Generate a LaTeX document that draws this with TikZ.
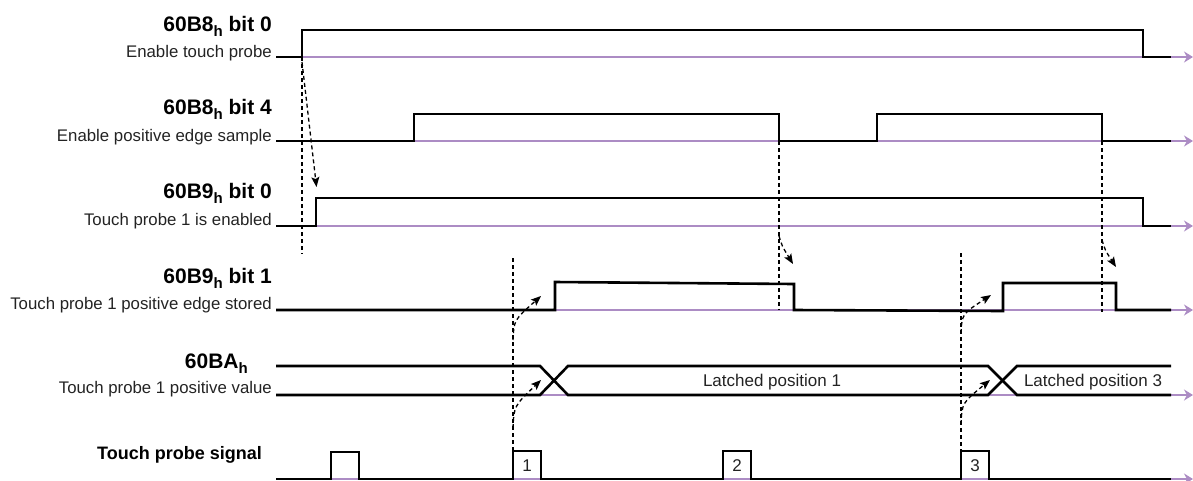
\documentclass[tikz,border=0pt]{standalone}
\usepackage{fontspec}
\setmainfont{Liberation Sans}
\usetikzlibrary{arrows.meta}
\definecolor{axiscol}{RGB}{172,140,196}
\definecolor{subtxt}{RGB}{35,35,35}
\newcommand\regtitle[2]{{\fontsize{21}{24}\selectfont\bfseries #1\raisebox{-5pt}{\fontsize{15}{16}\selectfont h} #2}}
\begin{document}
\begin{tikzpicture}[x=1pt,y=-1pt,
  axisline/.style={draw=axiscol,line width=1.4pt,-{Stealth[length=9pt,width=11pt]}},
  sig/.style={draw=black,line width=2.6pt,line join=miter},
  guide/.style={draw=black,line width=1.3pt,dash pattern=on 4pt off 3pt},
  causal/.style={guide,-{Stealth[length=10pt,width=8pt,inset=2pt]}},
  ttl/.style={anchor=base east,inner sep=0pt,text=black},
  sub/.style={anchor=base east,inner sep=0pt,text=subtxt,font=\fontsize{16.8}{19}\selectfont},
  num/.style={anchor=base,inner sep=0pt,text=subtxt,font=\fontsize{17}{19}\selectfont}]
\useasboundingbox (0,0) rectangle (1193,480);
% axes
\foreach \yy in {57,141,226,310,395,479}{
  \draw[axisline] (276,\yy) -- (1193,\yy);
}
% labels
\node[ttl] (t1) at (272,31) {\regtitle{60B8}{bit 0}};
\node[sub] (s1) at (272,57) {Enable touch probe};
\node[ttl] (t2) at (272,114) {\regtitle{60B8}{bit 4}};
\node[sub] (s2) at (272,141) {Enable positive edge sample};
\node[ttl] (t3) at (272,198) {\regtitle{60B9}{bit 0}};
\node[sub] (s3) at (272,225) {Touch probe 1 is enabled};
\node[ttl] (t4) at (272,283) {\regtitle{60B9}{bit 1}};
\node[sub] (s4) at (272,309) {Touch probe 1 positive edge stored};
\node[ttl] (t5) at (248,368) {{\fontsize{21}{24}\selectfont\bfseries 60BA\raisebox{-5pt}{\fontsize{15}{16}\selectfont h}}};
\node[sub] (s5) at (272,393) {Touch probe 1 positive value};
\node[ttl,font=\fontsize{18}{21}\selectfont\bfseries] (t6) at (262,459) {Touch probe signal};
% signals
\draw[sig] (276,57)--(302,57)--(302,30)--(1143,30)--(1143,57)--(1171,57);
\draw[sig] (276,141)--(414,141)--(414,114)--(779,114)--(779,141)--(877,141)--(877,114)--(1102,114)--(1102,141)--(1171,141);
\draw[sig] (276,226)--(316,226)--(316,198)--(1143,198)--(1143,226)--(1171,226);
\draw[sig] (276,310)--(555,310)--(555,282)--(794,284)--(794,310)--(1003,311)--(1003,283)--(1116,283)--(1116,310)--(1171,310);
\draw[sig] (276,366)--(540,366)--(568,395)--(988,395)--(1017,366)--(1171,366);
\draw[sig] (276,395)--(540,395)--(568,366)--(988,366)--(1017,395)--(1171,395);
\draw[sig] (276,479)--(331,479)--(331,452)--(359,452)--(359,479)--(513,479)--(513,451)--(541,451)--(541,479)--(723,479)--(723,451)--(751,451)--(751,479)--(961,479)--(961,451)--(989,451)--(989,479)--(1171,479);
\node[num] (p1) at (527,471) {1};
\node[num] (p2) at (737,471) {2};
\node[num] (p3) at (975,471) {3};
\node[num] (l1) at (772,386) {Latched position 1};
\node[num] (l3) at (1093,386) {Latched position 3};
% guides and causal arrows
\draw[guide] (302,57)--(302,254);
\draw[causal] (302,62)--(316.5,187);
\draw[guide] (779,141)--(779,310);
\draw[causal] (779,236) .. controls (782,246) .. (793,264);
\draw[guide] (1102,141)--(1102,312);
\draw[causal] (1102,240) .. controls (1105,250) .. (1116,267);
\draw[guide] (513,258)--(513,451);
\draw[causal] (513,340) .. controls (514,320) .. (541,296);
\draw[causal] (513,428) .. controls (514,406) .. (541,380);
\draw[guide] (961,253)--(961,451);
\draw[causal] (961,333) .. controls (962,314) .. (991,295);
\draw[causal] (961,424) .. controls (962,403) .. (990,380);
\end{tikzpicture}
\end{document}
